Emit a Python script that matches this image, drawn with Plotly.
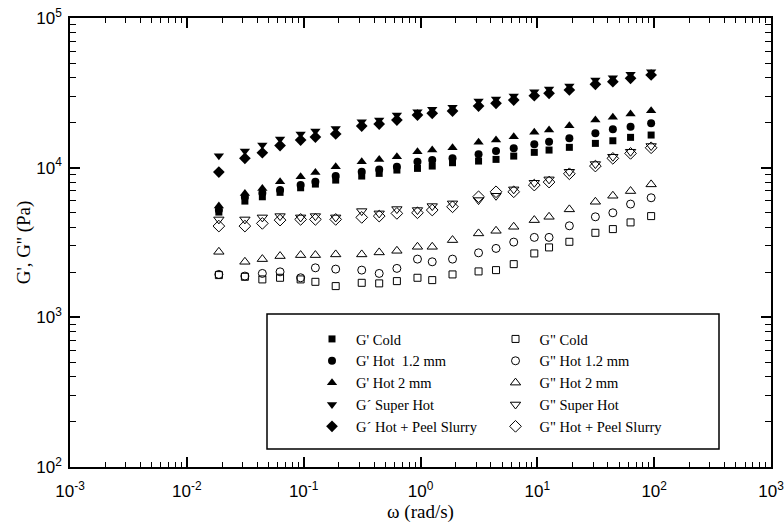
import plotly.graph_objects as go

# Angular frequency (rad/s)
omega = [0.0188, 0.0314, 0.0443, 0.0628, 0.0942, 0.126, 0.188, 0.314, 0.443, 0.628,
         0.942, 1.26, 1.88, 3.14, 4.43, 6.28, 9.42, 12.6, 18.8, 31.4, 44.3, 62.8, 94.2]

# Storage moduli G' (Pa)
g1_cold = [5050, 5980, 6390, 6840, 7340, 7770, 8260, 8790, 9160, 9640, 9890, 10250,
           10790, 11070, 11360, 11950, 12660, 13110, 13670, 14530, 15130, 15940, 16520]
g1_hot12 = [5210, 6360, 6760, 7090, 7650, 8050, 8790, 9390, 9740, 10140, 10950, 11240,
            11540, 12270, 12910, 13460, 14310, 14900, 15700, 16960, 18030, 18770, 19780]
g1_hot2 = [5540, 6730, 7270, 8050, 8690, 9300, 10140, 10950, 11360, 11830, 12780, 13110,
           13580, 14760, 15290, 16090, 17220, 17840, 19060, 20810, 21690, 22820, 24000]
g1_super = [12010, 12910, 14160, 15530, 16780, 17570, 18250, 20270, 20810, 22470, 23640,
            24530, 25300, 27870, 28740, 30100, 32170, 33530, 35120, 38520, 39900, 42050, 43750]
g1_peel = [9350, 11540, 12580, 14050, 15290, 16010, 16780, 18970, 19560, 20810, 22470,
           23070, 23890, 25810, 26900, 28310, 30240, 31390, 33020, 36050, 37520, 39540, 41590]

# Loss moduli G'' (Pa)
g2_cold = [1915, 1866, 1792, 1838, 1792, 1727, 1617, 1701, 1686, 1746, 1838, 1773,
           1935, 2027, 2068, 2267, 2673, 2932, 3197, 3671, 3886, 4308, 4747]
g2_hot12 = [1935, 1886, 1965, 2014, 1838, 2142, 2100, 2068, 1965, 2123, 2449, 2350,
            2449, 2698, 2887, 3182, 3421, 3421, 4089, 4696, 4995, 5710, 6293]
g2_hot2 = [2740, 2350, 2449, 2566, 2605, 2605, 2633, 2633, 2715, 2783, 2960, 2960,
           3281, 3637, 3786, 4027, 4463, 4696, 5265, 5917, 6491, 6976, 7733]
g2_super = [4511, 4511, 4653, 4747, 4653, 4747, 4653, 5128, 4949, 5289, 5210, 5537,
            5772, 6073, 6491, 7161, 7926, 8352, 9389, 10570, 11830, 12780, 13950]
g2_peel = [4070, 4070, 4243, 4463, 4511, 4511, 4511, 4653, 4747, 4949, 4995, 5210,
           5477, 6392, 6901, 6901, 7649, 8013, 9104, 10250, 11540, 12460, 13580]

x_tick_vals = [1e-3, 1e-2, 1e-1, 1e0, 1e1, 1e2, 1e3]
x_tick_labels = ["10<sup>-3</sup>", "10<sup>-2</sup>", "10<sup>-1</sup>", "10<sup>0</sup>",
                 "10<sup>1</sup>", "10<sup>2</sup>", "10<sup>3</sup>"]
y_tick_vals = [1e2, 1e3, 1e4, 1e5]
y_tick_labels = ["10<sup>2</sup>", "10<sup>3</sup>", "10<sup>4</sup>", "10<sup>5</sup>"]

x_minor = [k * 10 ** d for d in range(-3, 3) for k in range(2, 10)]
y_minor = [k * 10 ** d for d in range(2, 5) for k in range(2, 10)]

series_g1 = [
    ("G' Cold", g1_cold, "square", 7),
    ("G' Hot\u00a0 1.2 mm", g1_hot12, "circle", 8),
    ("G' Hot 2 mm", g1_hot2, "triangle-up", 9),
    ("G\u00b4 Super Hot", g1_super, "triangle-down", 9),
    ("G\u00b4 Hot + Peel Slurry", g1_peel, "diamond", 9),
]
series_g2 = [
    ('G" Cold', g2_cold, "square-open", 7),
    ('G" Hot 1.2 mm', g2_hot12, "circle-open", 8),
    ('G" Hot 2 mm', g2_hot2, "triangle-up-open", 9),
    ('G" Super Hot', g2_super, "triangle-down-open", 9),
    ('G" Hot + Peel Slurry', g2_peel, "diamond-open", 9),
]

fig = go.Figure()
for name, vals, sym, sz in series_g1:
    fig.add_trace(go.Scatter(
        x=omega, y=vals, mode="markers", name=name, legend="legend",
        marker=dict(symbol=sym, size=sz, color="black", line=dict(width=0))))
for name, vals, sym, sz in series_g2:
    fig.add_trace(go.Scatter(
        x=omega, y=vals, mode="markers", name=name, legend="legend2",
        marker=dict(symbol=sym, size=sz, color="black", line=dict(width=1, color="black"))))

L, R, T, B = 70, 13, 18, 58
W, H = 784, 525
pw, ph = W - L - R, H - T - B

def px_x(px):
    return (px - L) / pw

def px_y(py):
    return (H - B - py) / ph

tick_font = dict(family="Liberation Sans, Arial, sans-serif", size=17, color="black")
serif = "Liberation Serif, Times New Roman, serif"

fig.update_layout(
    width=W, height=H,
    margin=dict(l=L, r=R, t=T, b=B, autoexpand=False),
    paper_bgcolor="white", plot_bgcolor="white",
    showlegend=True,
    legend=dict(x=px_x(308), y=px_y(323), xanchor="left", yanchor="top",
                bgcolor="rgba(0,0,0,0)", borderwidth=0, tracegroupgap=0, itemwidth=38,
                font=dict(family=serif, size=14.5, color="black")),
    legend2=dict(x=px_x(491.5), y=px_y(323), xanchor="left", yanchor="top",
                 bgcolor="rgba(0,0,0,0)", borderwidth=0, tracegroupgap=0, itemwidth=38,
                 font=dict(family=serif, size=14.5, color="black")),
    shapes=[dict(type="rect", xref="paper", yref="paper",
                 x0=px_x(267), x1=px_x(719), y0=px_y(449), y1=px_y(314),
                 line=dict(color="black", width=1.5), fillcolor="rgba(0,0,0,0)")],
)

fig.update_xaxes(
    type="log", range=[-3, 3], automargin=False, ticklabeloverflow="allow",
    tickmode="array", tickvals=x_tick_vals, ticktext=x_tick_labels,
    ticks="inside", ticklen=10, tickwidth=1.5, tickcolor="black", ticklabelstandoff=8,
    minor=dict(tickmode="array", tickvals=x_minor, ticks="inside", ticklen=5,
               tickwidth=1, tickcolor="black", showgrid=False),
    showline=True, linecolor="black", linewidth=1.5, mirror="allticks",
    showgrid=False, zeroline=False, tickfont=tick_font,
    title=dict(text="\u03c9 (rad/s)", font=dict(family=serif, size=19, color="black"), standoff=3),
)
fig.update_yaxes(
    type="log", range=[2, 5], automargin=False, ticklabeloverflow="allow",
    tickmode="array", tickvals=y_tick_vals, ticktext=y_tick_labels,
    ticks="inside", ticklen=10, tickwidth=1.5, tickcolor="black", ticklabelstandoff=3,
    minor=dict(tickmode="array", tickvals=y_minor, ticks="inside", ticklen=6,
               tickwidth=1, tickcolor="black", showgrid=False),
    showline=True, linecolor="black", linewidth=1.5, mirror="allticks",
    showgrid=False, zeroline=False, tickfont=tick_font,
    title=dict(text="G', G'' (Pa)", font=dict(family=serif, size=19, color="black"), standoff=1),
)

fig.write_html("out.html", config={"displayModeBar": False},
               post_script="document.body.style.margin='0';")
